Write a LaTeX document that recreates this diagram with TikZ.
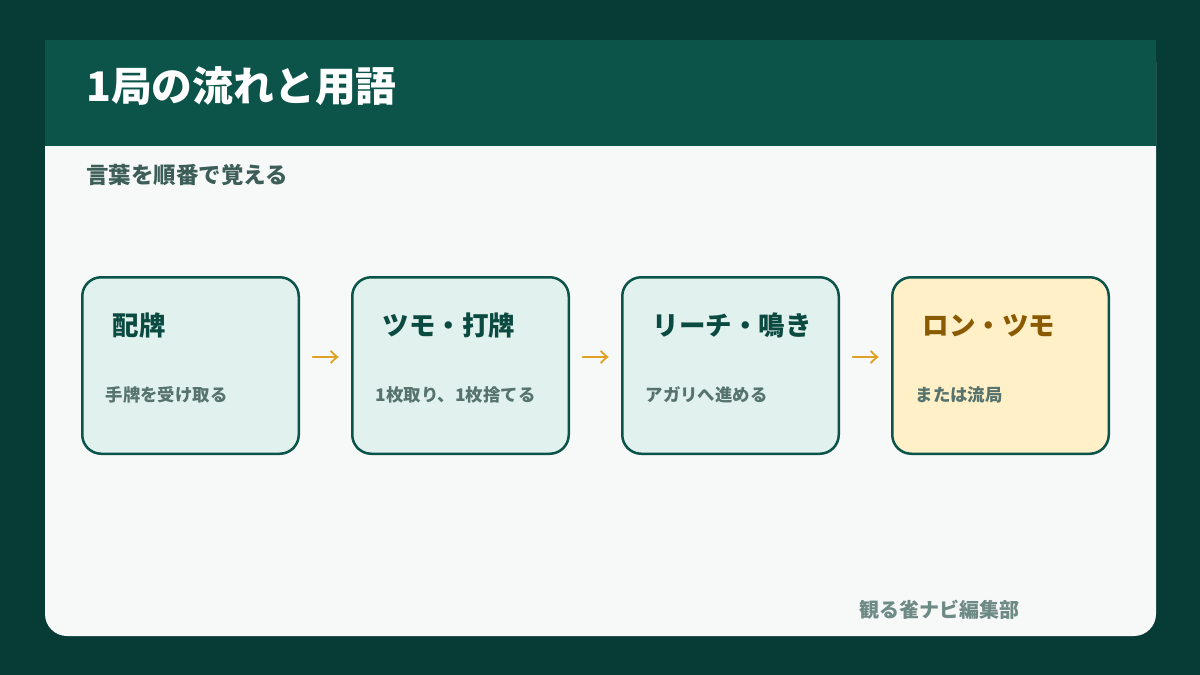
\documentclass[tikz,border=0pt]{standalone}
\usepackage{fontspec}
\newfontfamily\jp{Noto Sans CJK JP}
\usetikzlibrary{calc}
\definecolor{bgdark}{HTML}{073B36}
\definecolor{header}{HTML}{0C5449}
\definecolor{card}{HTML}{F7F9F9}
\definecolor{boxfill}{HTML}{E1F1EE}
\definecolor{boxline}{HTML}{0B5449}
\definecolor{goldfill}{HTML}{FFF0C8}
\definecolor{goldtext}{HTML}{8A5A00}
\definecolor{titletext}{HTML}{0B4A40}
\definecolor{subtext}{HTML}{56736D}
\definecolor{leadtext}{HTML}{3D5E58}
\definecolor{foottext}{HTML}{6E8A85}
\definecolor{arrowc}{HTML}{E0A020}
\tikzset{
  stepbox/.style={draw=boxline, line width=2.5pt, rounded corners=19pt, fill=boxfill,
    minimum width=216.5pt, minimum height=176.5pt, inner sep=0pt, anchor=north west},
  goldbox/.style={stepbox, fill=goldfill},
  boxtitle/.style={anchor=base west, inner sep=0pt, text=titletext, font=\jp\bfseries\fontsize{26.5}{30}\selectfont},
  boxsub/.style={anchor=base west, inner sep=0pt, text=subtext, font=\jp\bfseries\fontsize{17.4}{20}\selectfont},
  flowarrow/.style={inner sep=0pt, text=arrowc, font=\jp\fontsize{29}{30}\selectfont}
}
\begin{document}
\begin{tikzpicture}[x=1pt,y=-1pt]
\useasboundingbox (0,0) rectangle (1200,675);
\fill[bgdark] (0,0) rectangle (1200,675);
\fill[card, rounded corners=22pt] (45,40) rectangle (1156,636);
\fill[header] (45,40) rectangle (1156,146);
\node[anchor=base west, inner sep=0pt, text=white, font=\jp\bfseries\fontsize{40.8}{44}\selectfont] (title) at (86,101.5) {1局の流れと用語};
\node[anchor=base west, inner sep=0pt, text=leadtext, font=\jp\bfseries\fontsize{22.5}{26}\selectfont] (lead) at (86,183) {言葉を順番で覚える};

\node[stepbox] (b1) at (81,276) {};
\node[stepbox] (b2) at (351,276) {};
\node[stepbox] (b3) at (621,276) {};
\node[goldbox] (b4) at (891,276) {};

\node[boxtitle] (t1) at ($(b1.north west)+(31.5,59.5)$) {配牌};
\node[boxsub] (s1) at ($(b1.north west)+(24.5,125)$) {手牌を受け取る};
\node[boxtitle] (t2) at ($(b2.north west)+(31.5,59.5)$) {ツモ・打牌};
\node[boxsub] (s2) at ($(b2.north west)+(24.5,125)$) {1枚取り、1枚捨てる};
\node[boxtitle] (t3) at ($(b3.north west)+(31.5,59.5)$) {リーチ・鳴き};
\node[boxsub] (s3) at ($(b3.north west)+(24.5,125)$) {アガリへ進める};
\node[boxtitle, text=goldtext] (t4) at ($(b4.north west)+(31.5,59.5)$) {ロン・ツモ};
\node[boxsub] (s4) at ($(b4.north west)+(24.5,125)$) {または流局};

\node[flowarrow] (a1) at ($(b1.east)!0.5!(b2.west)+(0,-5.5)$) {→};
\node[flowarrow] (a2) at ($(b2.east)!0.5!(b3.west)+(0,-5.5)$) {→};
\node[flowarrow] (a3) at ($(b3.east)!0.5!(b4.west)+(0,-5.5)$) {→};

\node[anchor=base west, inner sep=0pt, text=foottext, font=\jp\bfseries\fontsize{20}{22}\selectfont] (foot) at (859.5,617) {観る雀ナビ編集部};
\end{tikzpicture}
\end{document}
